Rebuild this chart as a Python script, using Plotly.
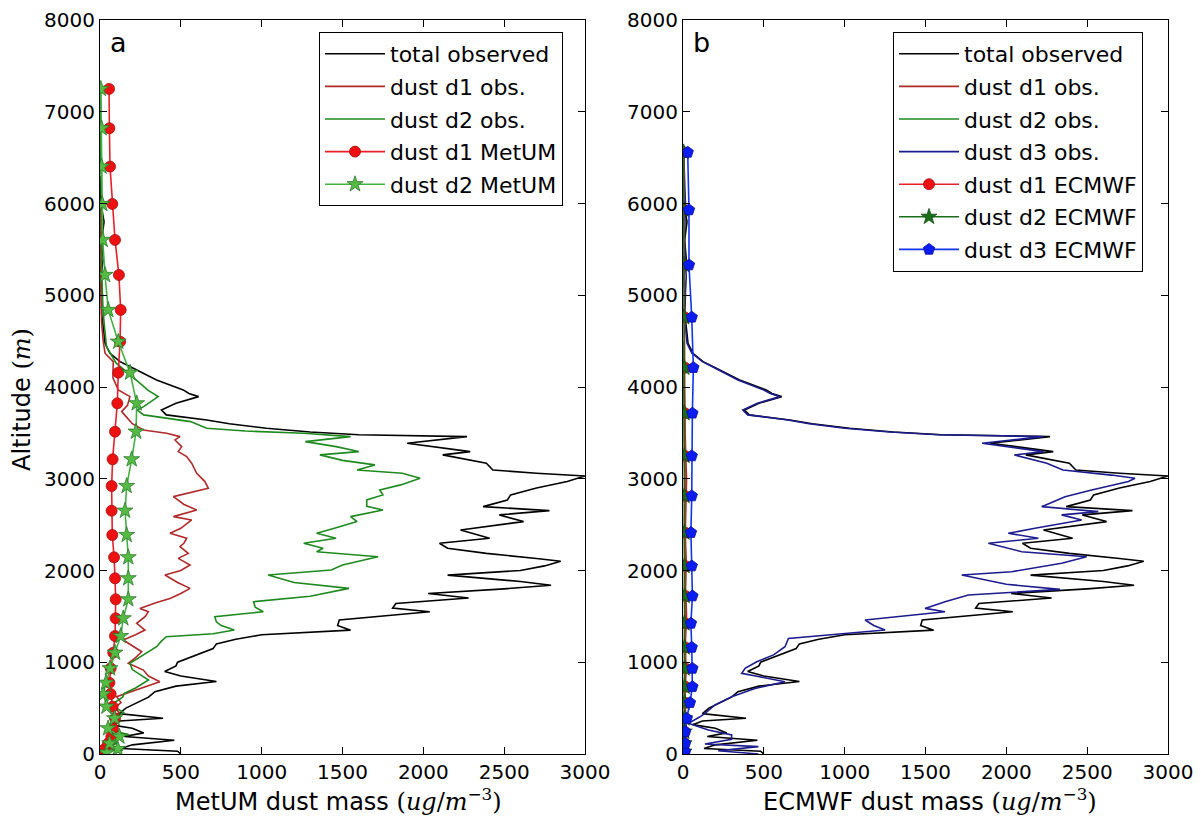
import plotly.graph_objects as go

# ---------------- data ----------------
ALT_TOTAL = [0, 30, 60, 100, 150, 190, 230, 280, 320, 360, 390, 440, 500, 560, 620, 680, 740, 790,
             850, 900, 960, 1000, 1080, 1150, 1200, 1250, 1300, 1350, 1400, 1460, 1550, 1590, 1640,
             1700, 1750, 1800, 1840, 1880, 1950, 2000, 2050, 2100, 2130, 2187, 2242, 2297, 2351,
             2442, 2533, 2606, 2653, 2696, 2769, 2824, 2900, 2969, 3030, 3060, 3096, 3169, 3260,
             3296, 3387, 3459, 3480, 3510, 3550, 3600, 3641, 3696, 3750, 3823, 3895, 3930, 3968,
             4077, 4204, 4277, 4368, 4477, 4659, 4800, 5000, 5200, 5400, 5600, 5800, 6000, 6300]
TOTAL_OBS = [500, 480, 130, 200, 460, 150, 270, 200, 60, 120, 390, 120, 160, 230, 300, 340, 470, 720,
             500, 400, 470, 480, 600, 700, 720, 840, 1000, 1550, 1470, 1480, 2040, 1810, 1830,
             2280, 2030, 2500, 2790, 2600, 2150, 2600, 2750, 2850, 2700, 2390, 2150, 2100, 2410,
             2230, 2620, 2470, 2780, 2370, 2520, 2540, 2700, 2890, 3000, 2700, 2430, 2390, 2120,
             2290, 1900, 2270, 1600, 1300, 1030, 800, 660, 410, 380, 470, 610, 550, 515,
             350, 206, 124, 62, 31, 20, 10, 15, 5, 20, 10, 25, 5, 0]

ALT_D1_OBS = [0, 50, 100, 150, 200, 250, 300, 350, 400, 450, 500, 560, 624, 661, 720, 788, 850, 915,
              988, 1050, 1115, 1180, 1242, 1300, 1351, 1424, 1500, 1551, 1587, 1650, 1696, 1750,
              1805, 1870, 1951, 2000, 2060, 2132, 2187, 2259, 2300, 2351, 2406, 2460, 2551, 2587,
              2660, 2720, 2805, 2896, 2969, 3060, 3169, 3241, 3296, 3350, 3423, 3459, 3496, 3532,
              3600, 3680, 3732, 3800, 3895, 3968, 4100, 4277, 4368, 4500, 4700, 5000, 5500, 6000]
D1_OBS_A = [40, 80, 30, 90, 50, 110, 60, 100, 70, 120, 90, 130, 103, 165, 250, 370, 300, 268,
            175, 220, 258, 200, 144, 220, 278, 227, 280, 299, 247, 350, 433, 500,
            557, 480, 402, 500, 557, 484, 546, 495, 520, 536, 433, 500, 567, 454,
            598, 520, 454, 670, 649, 598, 567, 536, 484, 505, 464, 495, 412, 268,
            200, 160, 134, 170, 185, 113, 80, 82, 31, 20, 10, 5, 5, 3]

ALT_D2_OBS = [0, 40, 80, 120, 170, 210, 250, 300, 350, 400, 450, 500, 560, 620, 660, 720, 806, 860,
              920, 988, 1060, 1120, 1169, 1230, 1278, 1310, 1351, 1400, 1440, 1496, 1551, 1600,
              1660, 1720, 1805, 1870, 1951, 2005, 2060, 2150, 2205, 2242, 2297, 2351, 2406, 2460,
              2533, 2587, 2660, 2700, 2769, 2824, 2878, 2933, 3005, 3060, 3096, 3151, 3200, 3260,
              3296, 3350, 3405, 3459, 3496, 3520, 3550, 3623, 3696, 3750, 3786, 3895, 3960, 4113,
              4259, 4440, 4600, 4800, 5000, 5300, 5600, 6000, 6500, 7000, 7300]
D2_OBS_A = [80, 140, 50, 110, 40, 180, 90, 60, 120, 80, 150, 100, 90, 140, 150, 220, 300, 250,
            200, 185, 250, 300, 350, 380, 410, 700, 830, 750, 720, 710, 1010, 960,
            950, 1300, 1540, 1200, 1040, 1430, 1500, 1720, 1340, 1380, 1260, 1460, 1340, 1450,
            1590, 1550, 1750, 1650, 1650, 1750, 1730, 1860, 1980, 1870, 1590, 1700, 1500, 1360,
            1600, 1460, 1270, 1550, 1260, 900, 660, 560, 270, 230, 270, 360, 300, 200,
            100, 40, 30, 20, 15, 10, 12, 8, 5, 5, 3]

ALT_METUM = [15, 55, 115, 190, 280, 389, 516, 654, 777, 934, 1104, 1286, 1479, 1686, 1915, 2144,
             2387, 2652, 2921, 3212, 3513, 3822, 4156, 4494, 4840, 5221, 5603, 5995, 6402, 6820, 7249]
METUM_D1 = [20, 30, 50, 70, 80, 93, 78, 66, 58, 66, 82, 93, 97, 97, 93, 87,
            76, 72, 72, 78, 93, 107, 113, 124, 128, 117, 93, 76, 62, 58, 56]
METUM_D2 = [40, 110, 60, 120, 50, 90, 40, 21, 37, 62, 93, 128, 144, 175, 175, 175,
            165, 155, 165, 196, 223, 227, 186, 113, 51, 31, 17, 14, 10, 10, 5]

ALT_D3_OBS = [0, 36, 80, 109, 160, 207, 261, 334, 400, 443, 534, 624, 715, 788, 850, 879, 933, 1006,
              1080, 1169, 1260, 1300, 1351, 1400, 1460, 1551, 1587, 1660, 1733, 1794, 1850, 1951,
              1987, 2078, 2150, 2205, 2297, 2351, 2406, 2460, 2551, 2606, 2642, 2696, 2805, 2878,
              2969, 3005, 3040, 3096, 3169, 3260, 3296, 3387, 3459, 3480, 3510, 3550, 3600, 3641,
              3696, 3750, 3823, 3895, 3930, 3968, 4077, 4204, 4277, 4368, 4477, 4659, 4800, 5200,
              5600, 6000, 6500]
D3_OBS_B = [466, 218, 466, 136, 300, 301, 157, 33, 100, 136, 198, 301, 445, 631, 450, 363, 384, 456,
            560, 631, 652, 900, 1250, 1180, 1126, 1621, 1497, 1621, 1765, 2332, 2000, 1724,
            2033, 2342, 2497, 2095, 1889, 2198, 2012, 2177, 2466, 2342, 2569, 2219, 2363, 2528,
            2755, 2796, 2650, 2350, 2250, 2050, 2230, 1850, 2230, 1580, 1280, 1000, 780, 650,
            400, 370, 460, 600, 540, 500, 340, 200, 120, 55, 25, 15, 8, 20, 10, 15, 5]

ALT_SMALL_OBS = [0, 300, 600, 900, 1200, 1500, 1800, 2100, 2400, 2700, 3000, 3300, 3600, 3900, 4200, 4500]
D1_OBS_B = [15, 20, 12, 18, 14, 22, 16, 20, 14, 18, 22, 16, 12, 10, 6, 2]
D2_OBS_B = [8, 12, 6, 10, 8, 12, 9, 11, 8, 10, 12, 9, 7, 5, 3, 1]

ALT_ECMWF = [25, 116, 243, 388, 559, 733, 933, 1162, 1424, 1722, 2049, 2413, 2813, 3249, 3714,
             4211, 4760, 5330, 5930, 6558]
ECMWF_D1 = [8, 9, 10, 12, 14, 15, 15, 14, 13, 14, 13, 12, 12, 12, 12, 12, 10, 8, 6, 5]
ECMWF_D2 = [6, 7, 8, 9, 10, 10, 10, 10, 9, 10, 9, 9, 9, 9, 9, 8, 7, 6, 5, 4]
ECMWF_D3 = [13, 13, 13, 23, 43, 58, 58, 54, 49, 58, 54, 49, 54, 54, 58, 64, 54, 37, 37, 29]

X_TICKS = [0, 500, 1000, 1500, 2000, 2500, 3000]
Y_TICKS = [0, 1000, 2000, 3000, 4000, 5000, 6000, 7000, 8000]

# ---------------- figure ----------------
W, H = 1201, 818
OFF = 8  # the page body margin shifts the figure by 8 px
fig = go.Figure()

BLACK = "#000000"
OBS_RED = "#b02a2a"
OBS_GREEN = "#1e8a1e"
OBS_BLUE = "#1c1c8e"
LW = 1.6
_gid = [0]

def next_group():
    _gid[0] += 1
    return "g%d" % _gid[0]

def line(x, y, name, color, xa, ya, leg):
    fig.add_trace(go.Scatter(x=x, y=y, mode="lines", name=name, xaxis=xa, yaxis=ya,
                             legendgroup=next_group(),
                             line=dict(color=color, width=LW), legend=leg))

def model(x, y, name, lcolor, symbol, mcolor, ecolor, xa, ya, leg, size=11):
    fig.add_trace(go.Scatter(x=x, y=y, mode="lines+markers", name=name, xaxis=xa, yaxis=ya,
                             legend=leg, legendgroup=next_group(),
                             line=dict(color=lcolor, width=LW),
                             marker=dict(symbol=symbol, size=size, color=mcolor,
                                         line=dict(color=ecolor, width=0.8))))

# Panel a
line(TOTAL_OBS, ALT_TOTAL, "total observed", BLACK, "x", "y", "legend")
line(D1_OBS_A, ALT_D1_OBS, "dust d1 obs.", OBS_RED, "x", "y", "legend")
line(D2_OBS_A, ALT_D2_OBS, "dust d2 obs.", OBS_GREEN, "x", "y", "legend")
model(METUM_D1, ALT_METUM, "dust d1 MetUM", "#e8202a", "circle", "#ee1111", "#a01010", "x", "y", "legend")
model(METUM_D2, ALT_METUM, "dust d2 MetUM", "#44b044", "star", "#55bb44", "#2a7a2a", "x", "y", "legend", 12)

# Panel b
line(TOTAL_OBS, ALT_TOTAL, "total observed", BLACK, "x2", "y2", "legend2")
line(D1_OBS_B, ALT_SMALL_OBS, "dust d1 obs.", OBS_RED, "x2", "y2", "legend2")
line(D2_OBS_B, ALT_SMALL_OBS, "dust d2 obs.", OBS_GREEN, "x2", "y2", "legend2")
line(D3_OBS_B, ALT_D3_OBS, "dust d3 obs.", OBS_BLUE, "x2", "y2", "legend2")
model(ECMWF_D1, ALT_ECMWF, "dust d1 ECMWF", "#e8202a", "circle", "#ee1111", "#a01010", "x2", "y2", "legend2")
model(ECMWF_D2, ALT_ECMWF, "dust d2 ECMWF", "#1a6e1a", "star", "#1a6e1a", "#0f4f0f", "x2", "y2", "legend2", 12)
model(ECMWF_D3, ALT_ECMWF, "dust d3 ECMWF", "#1133ee", "pentagon", "#0a1cf0", "#0a0a9a", "x2", "y2", "legend2", 12)

FONT = "DejaVu Sans"
TICKFONT = dict(family=FONT, size=20, color="#000")

def px_x(p):
    return (p - OFF) / W

def px_y(p):
    return 1 - (p - OFF) / H

axis_common = dict(showline=True, linecolor="#000", linewidth=1.2, mirror="ticks",
                   ticks="inside", ticklen=7, tickcolor="#000", tickwidth=1,
                   showgrid=False, zeroline=False, tickfont=TICKFONT, automargin=False)

LEGFONT = dict(family=FONT, size=22, color="#000")
fig.update_layout(
    width=W, height=H, margin=dict(l=0, r=0, t=0, b=0),
    paper_bgcolor="white", plot_bgcolor="white",
    font=dict(family=FONT, color="#000"),
    xaxis=dict(domain=[px_x(100), px_x(585)], range=[0, 3000], tickvals=X_TICKS,
               anchor="y", **axis_common),
    yaxis=dict(domain=[px_y(754), px_y(20)], range=[0, 8000], tickvals=Y_TICKS,
               anchor="x", **axis_common),
    xaxis2=dict(domain=[px_x(683), px_x(1168)], range=[0, 3000], tickvals=X_TICKS,
                anchor="y2", **axis_common),
    yaxis2=dict(domain=[px_y(754), px_y(20)], range=[0, 8000], tickvals=Y_TICKS,
                anchor="x2", **axis_common),
    legend=dict(x=px_x(319), y=px_y(32), xanchor="left", yanchor="top",
                bordercolor="#000", borderwidth=1, bgcolor="white",
                tracegroupgap=1, itemwidth=60, font=LEGFONT),
    legend2=dict(x=px_x(893), y=px_y(32), xanchor="left", yanchor="top",
                 bordercolor="#000", borderwidth=1, bgcolor="white",
                 tracegroupgap=1, itemwidth=60, font=LEGFONT),
    showlegend=True,
)

MATH = "font-family:'DejaVu Serif'"
annos = [
    dict(text="a", x=px_x(108), y=px_y(42), xanchor="left", yanchor="middle", font_size=27),
    dict(text="b", x=px_x(691), y=px_y(42), xanchor="left", yanchor="middle", font_size=27),
    dict(text="Altitude <span style=\"%s\">(<i>m</i>)</span>" % MATH, x=px_x(22), y=px_y(400),
         xanchor="center", yanchor="middle", textangle=-90, font_size=24),
    dict(text="MetUM dust mass <span style=\"%s\">(<i>ug</i>/<i>m</i><sup>−3</sup>)</span>" % MATH,
         x=px_x(338), y=px_y(800), xanchor="center", yanchor="middle", font_size=24),
    dict(text="ECMWF dust mass <span style=\"%s\">(<i>ug</i>/<i>m</i><sup>−3</sup>)</span>" % MATH,
         x=px_x(930), y=px_y(800), xanchor="center", yanchor="middle", font_size=24),
]
for a in annos:
    fs = a.pop("font_size")
    fig.add_annotation(xref="paper", yref="paper", showarrow=False,
                       font=dict(family=FONT, size=fs, color="#000"), **a)

fig.write_html("out.html")
